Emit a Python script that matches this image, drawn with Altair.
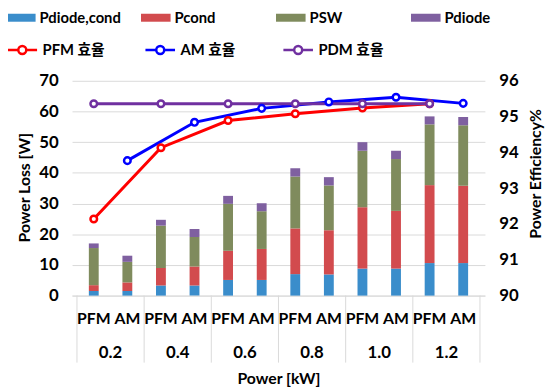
import altair as alt
import pandas as pd

powers = ["0.2", "0.4", "0.6", "0.8", "1.0", "1.2"]
modes = ["PFM", "AM"]
loss_names = ["Pdiode,cond", "Pcond", "PSW", "Pdiode"]
loss_colors = ["#3A8DCB", "#D24B4E", "#7F8B5D", "#7F60A0"]

# one value per bar: 0.2 PFM, 0.2 AM, 0.4 PFM, 0.4 AM, ...
p_diode_cond = [1.5, 1.5, 3.3, 3.3, 5.1, 5.1, 7.0, 6.9, 8.8, 8.8, 10.6, 10.6]
p_cond = [1.9, 2.8, 5.7, 6.2, 9.5, 10.1, 14.9, 14.4, 20.0, 18.8, 25.4, 25.2]
p_sw = [12.1, 6.7, 13.8, 9.6, 15.3, 12.3, 16.9, 14.6, 18.4, 16.9, 19.8, 19.7]
p_diode = [1.5, 2.0, 1.9, 2.6, 2.6, 2.6, 2.7, 2.7, 2.8, 2.7, 2.6, 2.7]

eff_names = ["PFM 효율", "AM 효율", "PDM 효율"]
eff_colors = ["#FF0000", "#0000FF", "#7030A0"]
eff_pfm = [92.14, 94.13, 94.89, 95.08, 95.24, 95.36]
eff_am = [93.77, 94.84, 95.23, 95.41, 95.54, 95.37]
eff_pdm = [95.36, 95.36, 95.36, 95.36, 95.36, 95.36]

FONT = "Lato, Noto Sans CJK KR, sans-serif"
W, H = 419, 218

# ---- tables built from the arrays ----
loss_series = [p_diode_cond, p_cond, p_sw, p_diode]
bar_rows = []
slot_rows = []
for gi, pw in enumerate(powers):
    for mi, md in enumerate(modes):
        slot = gi * 2 + mi
        slot_rows.append({"x": slot + 0.5, "mode": md})
        for k, name in enumerate(loss_names):
            bar_rows.append({"x": slot + 0.5, "series": name, "k": k,
                             "value": loss_series[k][slot]})
bars_df = pd.DataFrame(bar_rows)
slots_df = pd.DataFrame(slot_rows)
groups_df = pd.DataFrame({"x": [gi * 2 + 1 for gi in range(len(powers))], "power": powers})
bounds_df = pd.DataFrame({"b": [gi * 2 for gi in range(len(powers) + 1)]})

eff_series = [eff_pfm, eff_am, eff_pdm]
eff_offsets = [0.5, 1.5, 0.5]
eff_rows = []
for s, name in enumerate(eff_names):
    for gi in range(len(powers)):
        eff_rows.append({"x": gi * 2 + eff_offsets[s], "series": name, "s": s,
                         "eff": eff_series[s][gi]})
eff_df = pd.DataFrame(eff_rows)

xscale = alt.Scale(domain=[0, 12], nice=False, zero=False)
xaxis = alt.Axis(labels=False, ticks=False, grid=False, domain=True, domainColor="#D9D9D9",
                 title="Power [kW]", titleFont=FONT, titleFontSize=16, titleFontWeight="bold",
                 titleColor="#000000", titlePadding=76)

rect_path = "M-1,-0.27H1V0.27H-1Z"
line_path = ("M-1,0H-0.27M0.27,0H1M-0.27,0A0.27,0.27,0,1,1,0.27,0"
             "A0.27,0.27,0,1,1,-0.27,0Z")

bars = alt.Chart(bars_df).mark_bar(size=10).encode(
    x=alt.X("x:Q", scale=xscale, axis=xaxis),
    y=alt.Y("value:Q", stack="zero", scale=alt.Scale(domain=[0, 70], nice=False),
            axis=alt.Axis(values=[0, 10, 20, 30, 40, 50, 60, 70], ticks=False, domain=False,
                          gridColor="#D9D9D9", gridWidth=1, labelFont=FONT, labelFontSize=17,
                          labelFontWeight="bold", labelColor="#000000", labelPadding=14,
                          title="Power Loss [W]", titleFont=FONT, titleFontSize=16,
                          titleFontWeight="bold", titleColor="#000000", titleAngle=270,
                          titleX=-48, titleY=108, titleAlign="center", titleBaseline="middle")),
    color=alt.Color("series:N", scale=alt.Scale(domain=loss_names, range=loss_colors),
                    legend=alt.Legend(title=None, orient="none", legendX=-67, legendY=-79,
                                      direction="horizontal", columns=4, gridAlign="all",
                                      columnPadding=20, symbolType=rect_path, symbolSize=900,
                                      symbolStrokeWidth=0, labelFont=FONT, labelFontSize=15,
                                      labelFontWeight="bold", labelColor="#000000",
                                      labelOffset=4)),
    order=alt.Order("k:Q"),
)

seps = alt.Chart(bounds_df).mark_rule(color="#D9D9D9", strokeWidth=1).encode(
    x=alt.X("b:Q", scale=xscale),
    y=alt.value(H), y2=alt.value(H + 68),
)

mode_text = alt.Chart(slots_df).mark_text(font=FONT, fontSize=16, fontWeight="bold",
                                          color="#000000", baseline="middle").encode(
    x=alt.X("x:Q", scale=xscale), y=alt.value(H + 24), text="mode:N")

power_text = alt.Chart(groups_df).mark_text(font=FONT, fontSize=17, fontWeight="bold",
                                            color="#000000", baseline="middle").encode(
    x=alt.X("x:Q", scale=xscale), y=alt.value(H + 58), text="power:N")

left = alt.layer(bars, seps, mode_text, power_text)

lines = alt.Chart(eff_df).mark_line(
    strokeWidth=3,
    point=alt.OverlayMarkDef(filled=True, fill="white", size=45, strokeWidth=2.5),
).encode(
    x=alt.X("x:Q", scale=xscale),
    y=alt.Y("eff:Q", scale=alt.Scale(domain=[90, 96], nice=False, zero=False),
            axis=alt.Axis(orient="right", values=[90, 91, 92, 93, 94, 95, 96], ticks=False,
                          domain=False, grid=False, labelFont=FONT, labelFontSize=17,
                          labelFontWeight="bold", labelColor="#000000", labelPadding=14,
                          title="Power Efficiency%", titleFont=FONT, titleFontSize=16,
                          titleFontWeight="bold", titleColor="#000000", titleAngle=270,
                          titleX=51, titleY=94, titleAlign="center", titleBaseline="middle")),
    stroke=alt.Stroke("series:N", scale=alt.Scale(domain=eff_names, range=eff_colors),
                      legend=alt.Legend(title=None, orient="none", legendX=-67, legendY=-48,
                                        direction="horizontal", columns=3, gridAlign="all",
                                        columnPadding=32, symbolType=line_path, symbolSize=900,
                                        symbolStrokeWidth=2.5, symbolFillColor="white",
                                        labelFont=FONT, labelFontSize=15,
                                        labelFontWeight="bold", labelColor="#000000",
                                        labelOffset=4)),
    order=alt.Order("x:Q"),
)

chart = alt.layer(left, lines).resolve_scale(y="independent").properties(
    width=W, height=H,
    autosize=alt.AutoSizeParams(type="none"),
    padding={"left": 65, "top": 71, "right": 62, "bottom": 98},
    background="white",
).configure_view(stroke=None)

chart.save("out.html", embed_options={"renderer": "svg", "actions": False})
